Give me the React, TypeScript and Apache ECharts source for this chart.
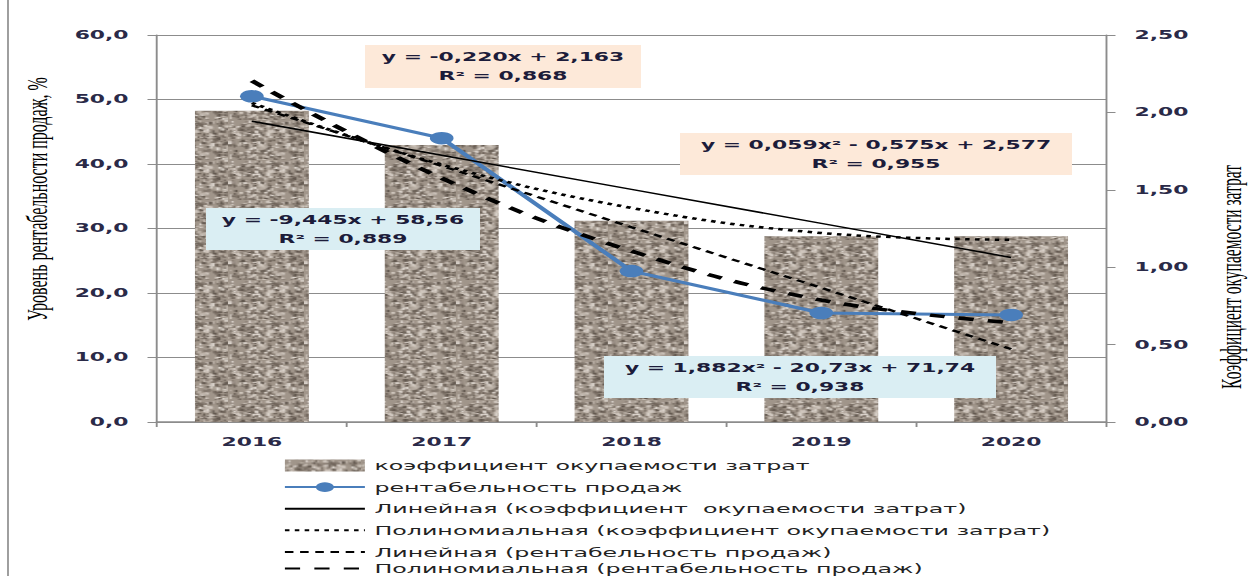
import React, { useEffect, useRef } from 'react';
import * as echarts from 'echarts';

// ---- data ----
const years = ['2016', '2017', '2018', '2019', '2020'];
const costRecovery = [2.01, 1.79, 1.3, 1.2, 1.2]; // коэффициент окупаемости затрат (right axis)
const salesProfitability = [50.5, 44.0, 23.4, 16.9, 16.6]; // рентабельность продаж, % (left axis)
const linearCost = [1.943, 1.723, 1.503, 1.283, 1.063];
const polyCost = [2.061, 1.663, 1.383, 1.221, 1.177];
const linearSales = [49.1, 39.7, 30.2, 20.8, 11.3];
const polySales = [52.9, 37.8, 26.5, 18.9, 15.4];

const seriesNames = [
  'коэффициент окупаемости затрат',
  'рентабельность продаж',
  'Линейная (коэффициент  окупаемости затрат)',
  'Полиномиальная (коэффициент окупаемости затрат)',
  'Линейная (рентабельность продаж)',
  'Полиномиальная (рентабельность продаж)',
];

const annotations = [
  { lines: ['y = -0,220x + 2,163', 'R² = 0,868'], kind: 'peach' },
  { lines: ['y = 0,059x² - 0,575x + 2,577', 'R² = 0,955'], kind: 'peach' },
  { lines: ['y = -9,445x + 58,56', 'R² = 0,889'], kind: 'blue' },
  { lines: ['y = 1,882x² - 20,73x + 71,74', 'R² = 0,938'], kind: 'blue' },
];

const leftTitle = 'Уровень рентабельности продаж, %';
const rightTitle = 'Коэффициент окупаемости затрат';

// ---- layout (inner coordinates; the whole chart is stretched horizontally) ----
const INNER_W = 657;
const H = 576;
const S = 1248 / INNER_W;
const X = (v: number) => v / S;

const annotationBoxes = [
  { x: 365, y: 45, w: 276, h: 43 },
  { x: 680, y: 133, w: 392, h: 42 },
  { x: 206, y: 208, w: 274, h: 42 },
  { x: 604, y: 356, w: 392, h: 42 },
];

function makeTexture(): HTMLCanvasElement {
  const c = document.createElement('canvas');
  c.width = 40;
  c.height = 40;
  const ctx = c.getContext('2d')!;
  ctx.fillStyle = '#a0958a';
  ctx.fillRect(0, 0, 40, 40);
  let seed = 12345;
  const rnd = () => {
    seed = (seed * 16807) % 2147483647;
    return seed / 2147483647;
  };
  const cols = ['#cfc6bd', '#bdb3a9', '#72675d', '#857a70', '#ddd6cf', '#62584f'];
  for (let i = 0; i < 420; i++) {
    ctx.fillStyle = cols[Math.floor(rnd() * cols.length)];
    const x = rnd() * 40;
    const y = rnd() * 40;
    const w = 1 + rnd() * 1.5;
    const h = 1 + rnd() * 2;
    ctx.fillRect(x, y, w, h);
  }
  return c;
}

export default function App() {
  const ref = useRef<HTMLDivElement>(null);

  useEffect(() => {
    if (!ref.current) return;
    const chart = echarts.init(ref.current, undefined, { renderer: 'svg' });
    const tex = makeTexture();
    const pattern: any = { image: tex, repeat: 'repeat', imageWidth: 40, imageHeight: 40 };

    const labelColor = '#2a2a48';
    const axisGray = '#8c8c8c';
    const tickFont = { fontFamily: 'DejaVu Sans', fontWeight: 'bold' as const, fontSize: 11.5, color: labelColor };

    const graphics: any[] = [];
    graphics.push({
      type: 'line',
      shape: { x1: X(8), y1: 0, x2: X(8), y2: H },
      style: { stroke: '#9a9a9a', lineWidth: 1 },
      silent: true,
    });
    graphics.push({
      type: 'text',
      x: X(36),
      y: 199,
      rotation: Math.PI / 2,
      style: {
        text: leftTitle,
        font: '16px "Liberation Serif"',
        fill: '#000',
        textAlign: 'center',
        textVerticalAlign: 'middle',
      },
    });
    graphics.push({
      type: 'text',
      x: X(1231),
      y: 277,
      rotation: Math.PI / 2,
      style: {
        text: rightTitle,
        font: '15.5px "Liberation Serif"',
        fill: '#000',
        textAlign: 'center',
        textVerticalAlign: 'middle',
      },
    });
    annotations.forEach((a, i) => {
      const b = annotationBoxes[i];
      const cx = X(b.x + b.w / 2);
      graphics.push({
        type: 'rect',
        shape: { x: X(b.x), y: b.y, width: X(b.w), height: b.h },
        style: { fill: a.kind === 'peach' ? '#fde9d9' : '#daeef3' },
        z: 100,
      });
      a.lines.forEach((t, j) => {
        graphics.push({
          type: 'text',
          x: cx,
          y: b.y + 12 + j * 19,
          z: 101,
          style: {
            text: t,
            font: 'bold 11.5px "DejaVu Sans"',
            fill: '#1c1c3a',
            textAlign: 'center',
            textVerticalAlign: 'middle',
          },
        });
      });
    });

    const hiddenSymbol = { opacity: 0 };
    const legendCommon = {
      orient: 'vertical',
      left: X(283),
      padding: 0,
      itemWidth: X(80),
      itemHeight: 12,
      itemGap: 8.6,
      textStyle: { fontFamily: 'DejaVu Sans', fontSize: 12.5, color: '#222' },
    };

    const option: any = {
      animation: false,
      backgroundColor: '#fff',
      grid: {
        left: X(157),
        right: INNER_W - X(1106),
        top: 35,
        bottom: H - 422,
        containLabel: false,
        outerBoundsMode: 'none',
      },
      legend: [
        {
          ...legendCommon,
          top: 459,
          data: [
            { name: seriesNames[0], icon: 'rect' },
            seriesNames[1],
            { name: seriesNames[2], itemStyle: hiddenSymbol },
            { name: seriesNames[3], itemStyle: hiddenSymbol },
            { name: seriesNames[4], itemStyle: hiddenSymbol },
          ],
        },
        {
          ...legendCommon,
          top: 562,
          data: [{ name: seriesNames[5], itemStyle: hiddenSymbol }],
        },
      ],
      xAxis: {
        type: 'category',
        data: years,
        boundaryGap: true,
        axisLine: { show: true, lineStyle: { color: axisGray, width: 1.5 } },
        axisTick: { show: true, length: 5, alignWithLabel: false, lineStyle: { color: axisGray } },
        axisLabel: { ...tickFont, margin: 14 },
        splitLine: { show: false },
      },
      yAxis: [
        {
          type: 'value',
          min: 0,
          max: 60,
          interval: 10,
          position: 'left',
          axisLine: { show: true, lineStyle: { color: axisGray, width: 1 } },
          axisTick: { show: true, length: 5, lineStyle: { color: axisGray } },
          axisLabel: {
            ...tickFont,
            margin: 15,
            formatter: (v: number) => v.toFixed(1).replace('.', ','),
          },
          splitLine: { show: true, lineStyle: { color: axisGray, width: 1 } },
        },
        {
          type: 'value',
          min: 0,
          max: 2.5,
          interval: 0.5,
          position: 'right',
          axisLine: { show: true, lineStyle: { color: axisGray, width: 1 } },
          axisTick: { show: true, length: 5, lineStyle: { color: axisGray } },
          axisLabel: {
            ...tickFont,
            margin: 15,
            formatter: (v: number) => v.toFixed(2).replace('.', ','),
          },
          splitLine: { show: false },
        },
      ],
      series: [
        {
          name: seriesNames[0],
          type: 'bar',
          yAxisIndex: 1,
          data: costRecovery,
          barCategoryGap: '40%',
          itemStyle: { color: pattern },
          z: 1,
        },
        {
          name: seriesNames[1],
          type: 'line',
          yAxisIndex: 0,
          data: salesProfitability,
          symbol: 'circle',
          symbolSize: 12.5,
          lineStyle: { color: '#4a7ebb', width: 3 },
          itemStyle: { color: '#4a7ebb' },
          z: 3,
        },
        {
          name: seriesNames[2],
          type: 'line',
          yAxisIndex: 1,
          data: linearCost,
          symbol: 'none',
          lineStyle: { color: '#000', width: 1.5, type: 'solid' },
          itemStyle: { color: '#000' },
          z: 4,
        },
        {
          name: seriesNames[3],
          type: 'line',
          yAxisIndex: 1,
          data: polyCost,
          symbol: 'none',
          smooth: 0.4,
          lineStyle: { color: '#000', width: 2.5, type: [2.4, 2.8] },
          itemStyle: { color: '#000' },
          z: 4,
        },
        {
          name: seriesNames[4],
          type: 'line',
          yAxisIndex: 0,
          data: linearSales,
          symbol: 'none',
          lineStyle: { color: '#000', width: 2.2, type: [4.5, 3.5] },
          itemStyle: { color: '#000' },
          z: 4,
        },
        {
          name: seriesNames[5],
          type: 'line',
          yAxisIndex: 0,
          data: polySales,
          symbol: 'none',
          smooth: 0.4,
          lineStyle: { color: '#000', width: 3.5, type: [8, 7.5] },
          itemStyle: { color: '#000' },
          z: 4,
        },
      ],
      graphic: graphics,
    };
    chart.setOption(option);
    return () => chart.dispose();
  }, []);

  return (
    <div style={{ position: 'fixed', left: 0, top: 0, width: 1248, height: H, overflow: 'hidden', background: '#fff' }}>
      <div
        ref={ref}
        style={{
          position: 'absolute',
          left: 0,
          top: 0,
          width: INNER_W,
          height: H,
          transform: `scaleX(${S})`,
          transformOrigin: '0 0',
        }}
      />
    </div>
  );
}
